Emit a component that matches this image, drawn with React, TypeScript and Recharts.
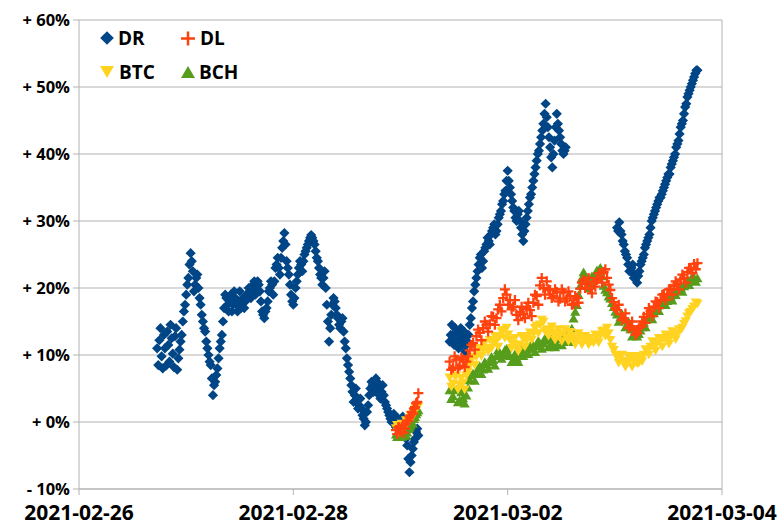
import React from 'react';
import { ScatterChart, Scatter, XAxis, YAxis, CartesianGrid, ReferenceLine } from 'recharts';

// x = hours since 2021-02-26 00:00, y = change in %
const HOUR_TICKS = [0, 48, 96, 144];
const DATE_LABELS = ['2021-02-26', '2021-02-28', '2021-03-02', '2021-03-04'];
const PCT_TICKS = [-10, 0, 10, 20, 30, 40, 50, 60];

// DR: three sampling runs, half-hour steps; *_MID are the samples in between
const DR_STEP = 0.5;
const DR_1_START = 17.5;
const DR_1 = [
  11.0, 12.2, 9.8, 13.0, 8.4, 11.5, 14.5, 10.2, 12.8, 7.8, 10.8, 13.0,
  16.5, 19.0, 21.5, 25.2, 22.5, 20.5, 22.0, 18.5,
  16.0, 14.0, 12.0, 10.0, 8.5, 4.0, 6.0, 8.0,
  11.0, 13.0, 17.0, 18.5, 16.5, 19.0, 17.5, 18.5, 16.5, 19.5, 18.0, 17.0, 19.0, 20.0, 18.5, 20.5, 19.0, 21.0, 19.5, 16.5, 15.5, 17.0,
  19.5, 21.0, 19.0, 23.0, 24.5, 22.0, 26.0, 28.2, 24.0, 22.0, 19.0, 17.5, 20.0, 22.0, 24.0, 22.5, 25.0, 26.0, 27.0, 27.9, 27.0, 25.5, 24.0, 22.0, 20.5, 22.5,
  17.5, 12.0, 16.0, 18.5, 17.0, 15.5, 14.0, 15.5, 12.0, 9.5, 7.5, 5.5, 3.0, 5.0, 2.0, 3.5, 1.0, -0.5, 1.5, 4.0,
  6.0, 4.5, 6.5, 5.0, 3.5, 5.5, 3.0, 2.0, 1.0, 0.0, 1.2, -0.8, 0.5, -0.5, 0.8, -1.5, -3.5, -7.5, -5.0, -3.0, -1.5, -2.0,
];
const DR_1_MID = [
  8.5, 14.0, 8.0, 11.0, 13.5, 9.0, 12.5, 8.2, 14.0, 9.5, 12.0, 15.0,
  17.5, 20.5, 23.5, 24.0, 19.5, 21.5, 20.0, 17.5,
  15.0, 13.5, 11.0, 9.0, 6.5, 5.5, 7.0, 9.5,
  12.0, 15.0, 19.0, 17.5, 18.0, 16.5, 19.5, 17.5, 18.0, 17.0, 18.5, 18.0, 18.5, 19.5, 19.5, 21.0, 20.0, 20.5, 18.0, 16.0, 16.5, 18.0,
  20.0, 20.5, 21.0, 23.5, 23.0, 24.5, 27.0, 26.5, 23.0, 20.5, 18.0, 18.5, 21.0, 23.0, 23.5, 24.0, 25.5, 26.5, 27.5, 27.5, 26.5, 24.5, 23.0, 21.5, 21.5, 20.0,
  15.0, 14.0, 17.5, 18.0, 16.0, 14.5, 15.0, 13.5, 11.0, 8.5, 6.5, 4.5, 4.0, 3.5, 2.5, 2.0, 0.5, 0.0, 2.5, 5.0,
  5.5, 5.5, 6.0, 4.0, 4.5, 4.0, 2.5, 1.5, 0.5, 0.8, 0.0, -0.2, 0.2, -1.0, -0.5, -2.5, -5.5, -6.0, -4.0, -2.5, -1.0,
];
const DR_2_START = 83.0;
const DR_2 = [
  12.0, 14.5, 11.5, 13.5, 11.0, 14.0, 12.5, 10.5, 12.0, 14.5, 17.0, 19.5, 21.5, 23.5, 25.0, 24.0, 26.0, 27.5, 26.5, 28.5,
  29.5, 28.5, 30.5, 31.5, 33.0, 34.5, 37.5, 35.0, 33.0, 31.5, 30.0, 31.5, 29.0, 27.0, 29.5, 31.5, 33.5, 35.0, 37.0, 39.0,
  40.5, 42.5, 44.5, 47.5, 44.0, 41.0, 38.0, 42.0, 46.0, 43.5, 41.5, 40.0, 41.0,
];
const DR_2_MID = [
  13.0, 12.5, 14.0, 12.0, 13.0, 11.5, 13.5, 11.5, 13.0, 15.5, 18.0, 20.5, 22.5, 24.5, 23.0, 25.5, 26.5, 27.0, 28.0, 29.0,
  28.0, 29.5, 31.0, 32.5, 34.0, 36.0, 36.0, 34.0, 32.0, 30.5, 31.0, 30.0, 28.0, 28.5, 30.5, 32.5, 34.0, 36.0, 38.0, 40.0,
  41.5, 43.5, 46.0, 45.5, 42.5, 39.5, 40.0, 44.0, 44.5, 42.5, 40.5, 40.5,
];
const DR_3_START = 120.5;
const DR_3 = [
  29.0, 29.8, 28.0, 26.5, 25.0, 23.5, 22.5, 23.5, 22.0, 20.8, 22.5, 24.0, 25.0, 26.5, 27.5, 29.0, 30.5, 31.5, 32.5, 33.5,
  34.0, 35.0, 36.0, 37.0, 38.0, 39.0, 40.0, 41.5, 43.0, 44.5, 46.0, 47.5, 49.0, 50.0, 51.0, 52.0, 52.5,
];
const DR_3_MID = [
  28.5, 28.5, 27.0, 25.5, 24.5, 22.5, 23.0, 21.5, 21.5, 21.8, 23.5, 24.5, 26.0, 27.0, 28.0, 30.0, 31.0, 32.0, 33.0, 33.5,
  34.5, 35.5, 36.5, 37.0, 38.5, 39.5, 41.0, 42.0, 44.0, 45.0, 47.0, 48.5, 49.5, 50.5, 51.5, 52.5,
];

// DL / BTC / BCH: short run on 03-01 morning, then a long run
const A_START = 71.0;
const A_STEP = 0.5;
const DL_A = [-1.2, -0.8, -1.5, -0.5, -1.0, 0.2, 0.8, 1.5, 2.0, 2.8, 4.3];
const DL_A_MID = [-1.8, -0.8, -1.0, -1.6, -0.2, 0.2, 1.0, 1.2, 2.2, 3.0];
const BTC_A = [-1.0, -1.5, -0.8, -1.2, -0.5, -0.2, 0.5, 1.0, 1.5, 2.0, 2.3];
const BTC_A_MID = [-0.5, -1.2, -0.3, -0.8, 0.2, 0.0, 1.0, 0.8, 1.8, 2.2];
const BCH_A = [-1.8, -2.0, -1.5, -2.0, -1.2, -1.5, -0.8, 0.0, 0.5, 1.2, 1.8];
const BCH_A_MID = [-2.2, -1.8, -2.2, -1.6, -2.0, -1.0, -0.5, -0.2, 0.8, 1.5];

const B_START = 83.0;
const B_STEP = 0.75;
const DL_B = [
  9.0, 8.1, 9.3, 8.4, 9.3, 9.0, 10.7, 11.8, 12.8, 13.3, 14.0, 14.5, 14.6, 15.7, 15.5, 17.5, 18.5, 19.0, 18.2, 17.2,
  16.0, 16.4, 16.1, 16.9, 16.7, 17.8, 18.8, 20.4, 20.0, 21.0, 19.7, 18.8, 19.4, 18.4, 19.3, 18.4, 18.8, 17.6, 18.5, 19.9,
  21.2, 20.6, 19.9, 20.9, 21.2, 21.5, 22.4, 21.5, 19.7, 17.9, 16.7, 16.1, 15.5, 14.9, 14.3, 13.7, 13.3, 14.3, 15.7, 16.1,
  16.6, 17.2, 17.9, 18.2, 19.1, 19.0, 19.9, 20.3, 20.6, 21.3, 21.5, 22.4, 23.0, 23.6, 23.7,
];
const DL_B_MID = [
  7.8, 9.8, 8.0, 9.6, 8.2, 9.8, 11.5, 10.8, 13.8, 12.2, 15.0, 13.5, 15.8, 14.5, 16.8, 16.5, 19.8, 17.5, 16.8, 18.2,
  15.2, 17.2, 15.5, 17.8, 15.8, 19.0, 17.5, 21.5, 19.0, 19.8, 18.5, 19.8, 18.0, 19.8, 18.0, 19.5, 17.5, 18.8, 17.8, 20.8,
  20.0, 21.5, 19.2, 20.2, 22.2, 20.8, 22.8, 20.5, 18.5, 17.0, 17.5, 15.2, 16.2, 14.0, 15.0, 13.0, 14.0, 15.0, 14.8, 17.0,
  15.8, 18.0, 17.0, 19.0, 18.2, 19.8, 19.0, 21.0, 19.8, 22.0, 20.8, 23.0, 22.2, 22.8,
];
const BTC_B = [
  6.6, 5.7, 6.9, 5.5, 5.8, 6.9, 8.4, 9.7, 9.7, 11.0, 10.7, 11.0, 12.2, 11.8, 12.1, 12.7, 13.7, 14.0, 12.2, 11.6,
  11.2, 11.5, 12.4, 12.1, 13.3, 13.1, 14.3, 14.5, 14.9, 13.8, 13.6, 13.3, 12.8, 13.0, 13.2, 12.6, 13.4, 12.4, 12.1, 12.8,
  12.1, 12.2, 12.5, 11.8, 12.7, 12.8, 13.6, 14.0, 12.2, 10.7, 9.7, 9.9, 9.1, 8.8, 9.3, 9.0, 8.7, 9.7, 10.0, 10.7,
  11.2, 11.2, 11.8, 12.1, 12.4, 12.2, 12.7, 13.0, 13.1, 13.7, 14.6, 15.7, 16.4, 17.2, 17.6,
];
const BTC_B_MID = [
  5.2, 6.8, 4.8, 6.5, 4.8, 7.5, 9.2, 8.5, 10.5, 9.8, 11.8, 10.5, 11.0, 12.8, 11.2, 13.5, 12.5, 13.0, 11.0, 12.5,
  10.5, 12.8, 11.2, 12.8, 12.2, 14.0, 13.2, 15.2, 13.5, 12.8, 14.2, 12.2, 13.8, 12.0, 13.8, 12.0, 12.8, 11.5, 13.2, 11.5,
  12.8, 11.5, 12.0, 13.0, 11.8, 13.5, 12.8, 13.2, 11.2, 10.0, 8.8, 10.0, 8.2, 9.8, 8.2, 9.8, 8.8, 9.0, 10.8, 10.0,
  12.0, 10.6, 12.5, 11.2, 13.0, 11.6, 13.5, 12.3, 13.8, 14.0, 15.0, 16.2, 16.8, 17.8,
];
const BCH_B = [
  4.8, 3.9, 4.9, 3.3, 3.6, 4.0, 6.3, 7.3, 7.2, 8.4, 7.9, 8.7, 9.0, 9.3, 9.9, 10.3, 10.0, 11.0, 9.9, 9.3,
  9.6, 10.3, 9.9, 10.9, 11.2, 11.0, 11.4, 11.6, 11.8, 12.2, 11.4, 12.0, 11.6, 12.4, 12.0, 12.6, 13.0, 15.5, 17.5, 20.4,
  22.4, 21.2, 20.6, 21.3, 22.7, 23.1, 20.4, 19.4, 18.5, 17.2, 16.1, 15.7, 15.2, 14.5, 13.9, 13.1, 12.8, 13.7, 14.9, 15.4,
  16.1, 16.3, 17.3, 17.6, 18.2, 18.1, 18.8, 19.4, 19.6, 20.1, 20.3, 21.0, 21.2, 21.6, 21.5,
];
const BCH_B_MID = [
  3.5, 4.8, 3.0, 4.5, 2.8, 5.2, 7.0, 6.2, 8.0, 7.2, 9.0, 8.0, 9.8, 8.5, 10.8, 9.5, 10.8, 10.2, 9.0, 10.2,
  9.0, 10.8, 10.2, 10.2, 11.8, 10.5, 12.2, 11.0, 12.6, 11.2, 12.4, 11.2, 12.8, 11.5, 13.2, 12.0, 14.0, 16.5, 19.0, 21.5,
  21.8, 20.0, 21.8, 22.0, 22.0, 21.8, 19.8, 18.8, 17.8, 16.5, 15.0, 16.2, 14.2, 15.0, 12.8, 13.8, 13.2, 14.2, 14.2, 15.8,
  15.4, 17.0, 16.6, 18.0, 17.5, 18.8, 18.2, 19.0, 20.2, 19.5, 20.8, 20.5, 21.8, 21.0,
];

const COLORS = { DR: '#004586', DL: '#ff420e', BTC: '#ffd320', BCH: '#579d1c' };
const FONT = '"Open Sans", "DejaVu Sans", sans-serif';
const AXIS_GREY = '#b3b3b3';

const run = (start: number, step: number, values: number[]) =>
  values.map((p, i) => ({ h: start + i * step, p }));
// a regular run plus the samples taken half a step later
const runs = (start: number, step: number, values: number[], mid: number[]) => [
  ...run(start, step, values),
  ...run(start + step / 2, step, mid),
];

const drData = [
  ...runs(DR_1_START, DR_STEP, DR_1, DR_1_MID),
  ...runs(DR_2_START, DR_STEP, DR_2, DR_2_MID),
  ...runs(DR_3_START, DR_STEP, DR_3, DR_3_MID),
];
const dlData = [...runs(A_START, A_STEP, DL_A, DL_A_MID), ...runs(B_START, B_STEP, DL_B, DL_B_MID)];
const btcData = [...runs(A_START, A_STEP, BTC_A, BTC_A_MID), ...runs(B_START, B_STEP, BTC_B, BTC_B_MID)];
const bchData = [...runs(A_START, A_STEP, BCH_A, BCH_A_MID), ...runs(B_START, B_STEP, BCH_B, BCH_B_MID)];

// marker paths
const diamondPath = (cx: number, cy: number, r: number) =>
  `M${cx},${cy - r}L${cx + r},${cy}L${cx},${cy + r}L${cx - r},${cy}Z`;
const plusPath = (cx: number, cy: number, r: number) =>
  `M${cx - r},${cy}H${cx + r}M${cx},${cy - r}V${cy + r}`;
const downPath = (cx: number, cy: number, r: number) =>
  `M${cx - r},${cy - r * 0.85}L${cx + r},${cy - r * 0.85}L${cx},${cy + r * 0.85}Z`;
const upPath = (cx: number, cy: number, r: number) =>
  `M${cx - r},${cy + r * 0.85}L${cx + r},${cy + r * 0.85}L${cx},${cy - r * 0.85}Z`;

const DiamondDot = (props: any) => <path d={diamondPath(props.cx, props.cy, 5.1)} fill={COLORS.DR} />;
const PlusDot = (props: any) => (
  <path d={plusPath(props.cx, props.cy, 5)} stroke={COLORS.DL} strokeWidth={2.3} fill="none" />
);
const DownDot = (props: any) => <path d={downPath(props.cx, props.cy, 5.1)} fill={COLORS.BTC} />;
const UpDot = (props: any) => <path d={upPath(props.cx, props.cy, 5.1)} fill={COLORS.BCH} />;

const pctLabel = (v: number) => (v < 0 ? `- ${Math.abs(v)}%` : `+ ${v}%`);
const dateLabel = (v: number) => DATE_LABELS[HOUR_TICKS.indexOf(v)] ?? '';

const LegendBox = () => (
  <svg width={260} height={90} style={{ position: 'absolute', left: 0, top: 0, pointerEvents: 'none' }}>
    <g fontFamily={FONT} fontWeight={700} fontSize={19} fill="#000">
      <path d={diamondPath(107, 38, 6.8)} fill={COLORS.DR} />
      <text x={118} y={44.5}>DR</text>
      <path d={plusPath(188, 38.5, 7)} stroke={COLORS.DL} strokeWidth={2.5} fill="none" />
      <text x={200} y={44.5}>DL</text>
      <path d={downPath(107, 72, 7)} fill={COLORS.BTC} />
      <text x={119} y={78.5}>BTC</text>
      <path d={upPath(188, 72, 7)} fill={COLORS.BCH} />
      <text x={199} y={78.5}>BCH</text>
    </g>
  </svg>
);

export default function App() {
  return (
    <div style={{ position: 'absolute', left: 0, top: 0, width: 781, height: 528, background: '#fff' }}>
      <ScatterChart width={781} height={528} margin={{ top: 20, right: 59, bottom: 9, left: 9 }}>
        <CartesianGrid vertical={false} stroke={AXIS_GREY} />
        <XAxis
          type="number"
          dataKey="h"
          domain={[0, 144]}
          ticks={HOUR_TICKS}
          interval={0}
          tickFormatter={dateLabel}
          height={30}
          tickMargin={10}
          stroke={AXIS_GREY}
          tick={{ fill: '#000', fontSize: 21, fontWeight: 700, fontFamily: FONT }}
        />
        <YAxis
          type="number"
          dataKey="p"
          domain={[-10, 60]}
          ticks={PCT_TICKS}
          interval={0}
          tickFormatter={pctLabel}
          width={70}
          tickMargin={3}
          stroke={AXIS_GREY}
          tick={{ fill: '#000', fontSize: 16.5, fontWeight: 700, fontFamily: FONT }}
        />
        <ReferenceLine x={144} stroke={AXIS_GREY} />
        <Scatter name="DR" data={drData} shape={DiamondDot} isAnimationActive={false} />
        <Scatter name="BCH" data={bchData} shape={UpDot} isAnimationActive={false} />
        <Scatter name="BTC" data={btcData} shape={DownDot} isAnimationActive={false} />
        <Scatter name="DL" data={dlData} shape={PlusDot} isAnimationActive={false} />
      </ScatterChart>
      <LegendBox />
    </div>
  );
}
